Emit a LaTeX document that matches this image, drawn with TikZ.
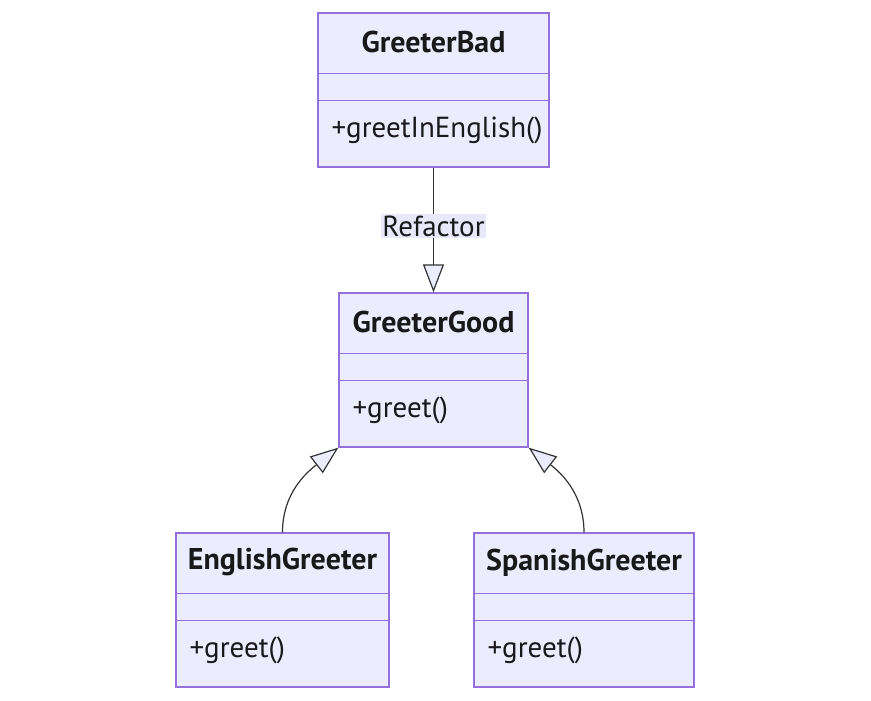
\documentclass[tikz,border=0pt]{standalone}
\usepackage{fontspec}
\setmainfont{PT Sans}
\usepackage{tikz}
\usetikzlibrary{positioning,arrows.meta,calc}

\definecolor{umlfill}{HTML}{ECECFF}
\definecolor{umlborder}{HTML}{9370DB}
\definecolor{umlline}{HTML}{333333}
\definecolor{labelbg}{HTML}{E8E8FA}

\begin{document}
\begin{tikzpicture}[
  x=1pt, y=-1pt,
  classbox/.style={draw=umlborder, fill=umlfill, line width=1.3pt,
                   minimum height=154pt, inner sep=0pt},
  divider/.style={draw=umlborder, line width=1.3pt},
  classtitle/.style={font=\fontsize{30}{34}\selectfont\bfseries, text=black!90, inner sep=0pt},
  classmethod/.style={font=\fontsize{29}{34}\selectfont, text=black!90, inner sep=0pt, anchor=west},
  inherit/.style={draw=umlline, line width=1.2pt,
                  -{Triangle[length=28pt, width=21pt, fill=umlfill, line width=1.2pt]}}
]
  \useasboundingbox (0,0) rectangle (871,701);

  % class boxes
  \node[classbox, minimum width=231pt] (bad)  at (433.5,90)  {};
  \node[classbox, minimum width=189pt] (good) at (433.5,370) {};
  \node[classbox, minimum width=213pt] (eng)  at (282.5,610) {};
  \node[classbox, minimum width=220pt] (spa)  at (584,610)   {};

  \foreach \c in {bad,good,eng,spa} {
    \draw[divider] ([yshift=-61pt]\c.north west) -- ([yshift=-61pt]\c.north east);
    \draw[divider] ([yshift=-88pt]\c.north west) -- ([yshift=-88pt]\c.north east);
  }

  % titles and methods
  \node[classtitle] (badT)  at ([yshift=-30pt]bad.north)  {GreeterBad};
  \node[classtitle] (goodT) at ([yshift=-30pt]good.north) {GreeterGood};
  \node[classtitle] (engT)  at ([yshift=-30pt]eng.north)  {EnglishGreeter};
  \node[classtitle] (spaT)  at ([yshift=-30pt]spa.north)  {SpanishGreeter};

  \node[classmethod] (badM)  at ([xshift=14pt,yshift=-118pt]bad.north west)  {+greetInEnglish()};
  \node[classmethod] (goodM) at ([xshift=14pt,yshift=-118pt]good.north west) {+greet()};
  \node[classmethod] (engM)  at ([xshift=14pt,yshift=-118pt]eng.north west)  {+greet()};
  \node[classmethod] (spaM)  at ([xshift=14pt,yshift=-118pt]spa.north west)  {+greet()};

  % relations
  \draw[inherit] (bad.south) -- node[pos=0.47, fill=labelbg, inner sep=1.5pt,
    font=\fontsize{29}{34}\selectfont, text=black!90] (refL) {Refactor} (good.north);
  \draw[inherit] (eng.north) to[out=90, in=218] (good.south west);
  \draw[inherit] (spa.north) to[out=90, in=-38] (good.south east);
\end{tikzpicture}
\end{document}
